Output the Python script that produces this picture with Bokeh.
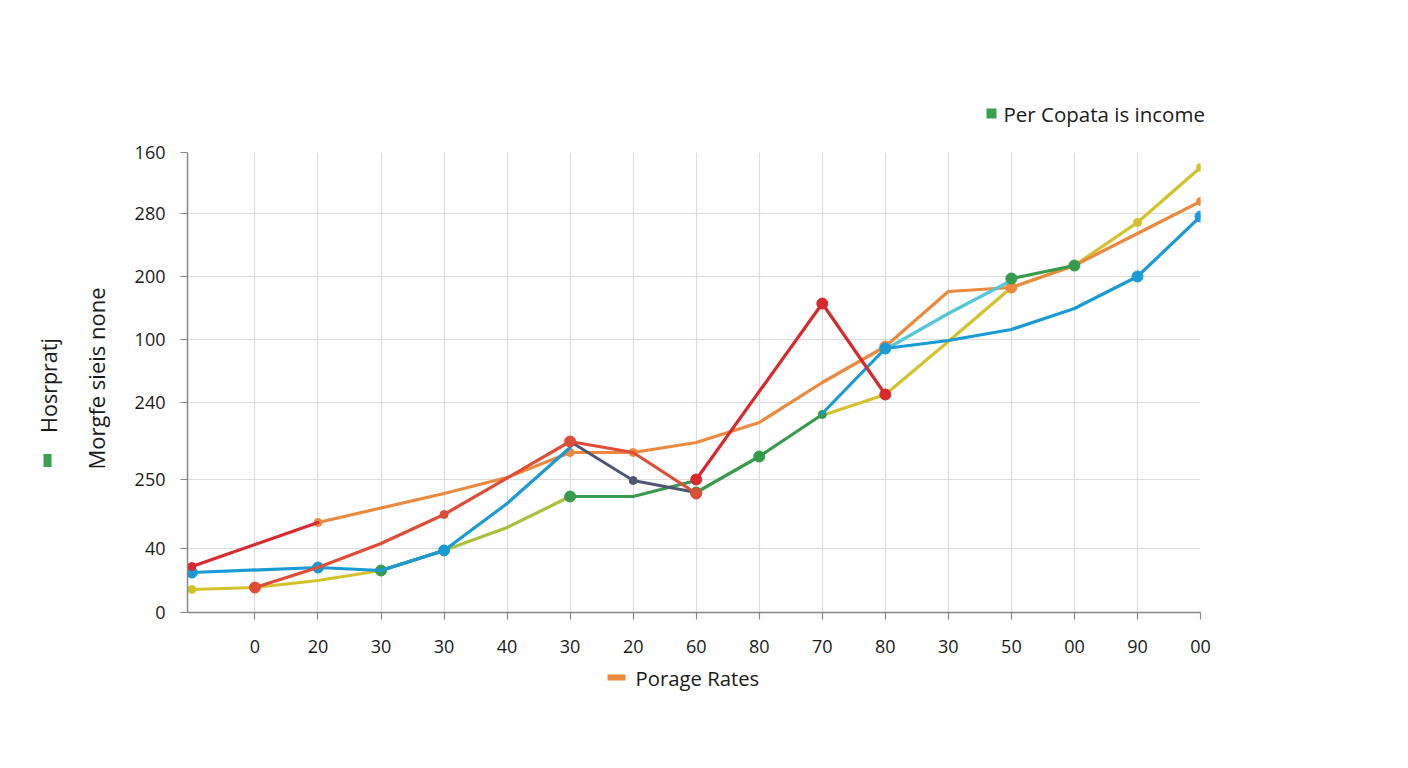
import math
from bokeh.plotting import figure
from bokeh.layouts import column, row
from bokeh.models import Range1d, FixedTicker, Label
from bokeh.embed import file_html
from bokeh.resources import INLINE

# ---------------- data ----------------
x_labels = ["0", "20", "30", "30", "40", "30", "20", "60", "80", "70", "80", "30", "50", "00", "90", "00"]
y_tick_vals = [0, 64, 133, 210, 273, 336, 399, 460]
y_tick_labels = ["0", "40", "250", "240", "100", "200", "280", "160"]

yellow_low_x = [0, 1, 2, 3]
yellow_low_y = [23, 25, 32, 42]
yellowgreen_x = [3, 4, 5, 6]
yellowgreen_y = [42, 62, 85, 116]
green_a_x = [3, 4]
green_a_y = [42, 62]
blue_a_x = [0, 2, 3, 4, 5, 6]
blue_a_y = [40, 45, 42, 62, 109, 165]
red_a_x = [0, 2]
red_a_y = [46, 90]
orange_x = [2, 4, 5, 6, 7, 8, 9, 10, 11, 12, 13, 14, 15, 16]
orange_y = [90, 119, 135, 160, 160, 170, 190, 230, 266, 321, 325, 347, 379, 411]
red_b_x = [1, 2, 3, 4, 6, 7, 8]
red_b_y = [25, 45, 69, 98, 171, 160, 119]
red_c_x = [8, 10, 11]
red_c_y = [133, 309, 218]
slate_x = [6, 7, 8]
slate_y = [171, 132, 120]
green_b_x = [6, 7, 8]
green_b_y = [116, 116, 132]
green_c_x = [8, 9, 10]
green_c_y = [120, 156, 198]
yellow_high_x = [10, 11, 12, 13, 14, 15, 16]
yellow_high_y = [197, 218, 271, 325, 347, 390, 445]
blue_b_x = [10, 11, 12, 13, 14, 15, 16]
blue_b_y = [199, 264, 272, 283, 304, 336, 396]
cyan_x = [11, 12, 13]
cyan_y = [263, 299, 332]
green_d_x = [13, 14]
green_d_y = [334, 347]

legend_top = "Per Copata is income"
legend_bottom = "Porage Rates"
left_title_outer = "Hosrpratj"
left_title_inner = "Morgfe sieis none"

FONT = "Open Sans"
TXT = "#1a1a1a"
YEL = "#d4c22c"
YG = "#a9c03a"
GRN = "#379a4c"
BLU = "#1a9bd5"
RED = "#d8292e"
RED2 = "#de4d36"
ORG = "#eb8a3e"
SLATE = "#4f5672"
CYAN = "#55c6d8"

# ---------------- page geometry (pixels) ----------------
PAGE_W = 1400
TOP_H = 132
ROW_H = 530
BOT_H = 98
LEFT_W = 120
MAIN_W = PAGE_W - LEFT_W
FRAME_L, FRAME_R, FRAME_T, FRAME_B = 187, 1200, 152, 612


def canvas(w, h, x0, x1, ytop, ybot):
    """blank figure whose data space equals page pixel coordinates"""
    c = figure(width=w, height=h, output_backend="svg", toolbar_location=None,
               x_range=Range1d(x0, x1), y_range=Range1d(ybot, ytop),
               x_axis_location=None, y_axis_location=None,
               min_border=0, min_border_left=0, min_border_right=0,
               min_border_top=0, min_border_bottom=0)
    c.outline_line_color = None
    c.xgrid.visible = False
    c.ygrid.visible = False
    c.background_fill_color = "white"
    c.border_fill_color = "white"
    return c


def text(c, px, py, t, size="20px", align="left", angle=0.0):
    c.add_layout(Label(x=px, y=py, text=t, text_font=FONT, text_font_size=size, text_color=TXT,
                       text_align=align, text_baseline="middle", angle=angle))


# top strip with legend
top = canvas(PAGE_W, TOP_H, 0, PAGE_W, 0, TOP_H)
top.rect([991], [113], width=10, height=10, fill_color="#3aa04e", line_color=None)
text(top, 1003, 113, legend_top, size="20.5px")

# left strip with rotated titles (its frame lines up with the main frame vertically)
left = canvas(LEFT_W, ROW_H, 0, LEFT_W, FRAME_T, FRAME_B)
left.rect([47], [460], width=8, height=13, fill_color="#3aa04e", line_color=None)
text(left, 48, 385, left_title_outer, size="21.5px", align="center", angle=math.pi / 2)
text(left, 95, 378, left_title_inner, size="22px", align="center", angle=math.pi / 2)

# bottom strip with legend
bottom = canvas(PAGE_W, BOT_H, 0, PAGE_W, TOP_H + ROW_H, TOP_H + ROW_H + BOT_H)
bottom.rect([616], [677], width=18, height=6, fill_color="#ef8a3a", line_color=None)
text(bottom, 635, 677, legend_bottom, size="20.3px")

# ---------------- main chart ----------------
X0, X1 = -0.07, 16
p = figure(width=MAIN_W, height=ROW_H, output_backend="svg", toolbar_location=None,
           x_range=Range1d(X0, X1), y_range=Range1d(0, 460),
           min_border_left=FRAME_L - LEFT_W, min_border_right=PAGE_W - FRAME_R,
           min_border_top=FRAME_T - TOP_H, min_border_bottom=TOP_H + ROW_H - FRAME_B)
p.outline_line_color = None
p.background_fill_color = "white"
p.border_fill_color = "white"

p.xaxis.ticker = FixedTicker(ticks=list(range(1, 17)))
p.xaxis.major_label_overrides = {i + 1: lab for i, lab in enumerate(x_labels)}
p.yaxis.ticker = FixedTicker(ticks=y_tick_vals)
p.yaxis.major_label_overrides = {v: lab for v, lab in zip(y_tick_vals, y_tick_labels)}
for ax in (p.xaxis, p.yaxis):
    ax.axis_line_color = "#888888"
    ax.axis_line_width = 1.5
    ax.major_tick_line_color = "#888888"
    ax.major_tick_line_width = 1.2
    ax.major_tick_out = 7
    ax.major_tick_in = 0
    ax.minor_tick_line_color = None
    ax.major_label_text_font = FONT
    ax.major_label_text_font_size = "18px"
    ax.major_label_text_color = TXT
p.xaxis.major_label_standoff = 20
p.yaxis.major_label_standoff = 15
p.xgrid.ticker = FixedTicker(ticks=list(range(1, 17)))
p.ygrid.ticker = FixedTicker(ticks=y_tick_vals)
p.grid.grid_line_color = "#dcdcdc"
p.grid.grid_line_width = 1.2


def series(xs, ys, color, width=3.2, markers=(), big=()):
    p.line(xs, ys, line_color=color, line_width=width, line_join="round", line_cap="round")
    for i in markers:
        p.scatter([xs[i]], [ys[i]], size=8, fill_color=color, line_color=color)
    for i in big:
        p.scatter([xs[i]], [ys[i]], size=11, fill_color=color, line_color=color)


series(yellow_low_x, yellow_low_y, YEL, markers=[0])
series(yellowgreen_x, yellowgreen_y, YG)
series(yellow_high_x, yellow_high_y, YEL, markers=[5, 6])
series(orange_x, orange_y, ORG, markers=[0, 3, 4, 13], big=[8, 10])
series(cyan_x, cyan_y, CYAN)
series(green_a_x, green_a_y, GRN, big=[0])
series(green_b_x, green_b_y, GRN, big=[0])
series(green_c_x, green_c_y, GRN, big=[0, 1], markers=[2])
series(green_d_x, green_d_y, GRN, big=[0, 1])
series(blue_a_x, blue_a_y, BLU, big=[0, 1, 3])
series(blue_b_x, blue_b_y, BLU, big=[1, 5, 6])
series(slate_x, slate_y, SLATE, width=2.8, markers=[1])
series(red_b_x, red_b_y, RED2, big=[0, 4, 6], markers=[3])
series(red_a_x, red_a_y, RED, markers=[0])
series(red_c_x, red_c_y, RED, big=[0, 1, 2])

layout = column(top, row(left, p, spacing=0), bottom, spacing=0)
open("out.html", "w").write(file_html(layout, INLINE))
